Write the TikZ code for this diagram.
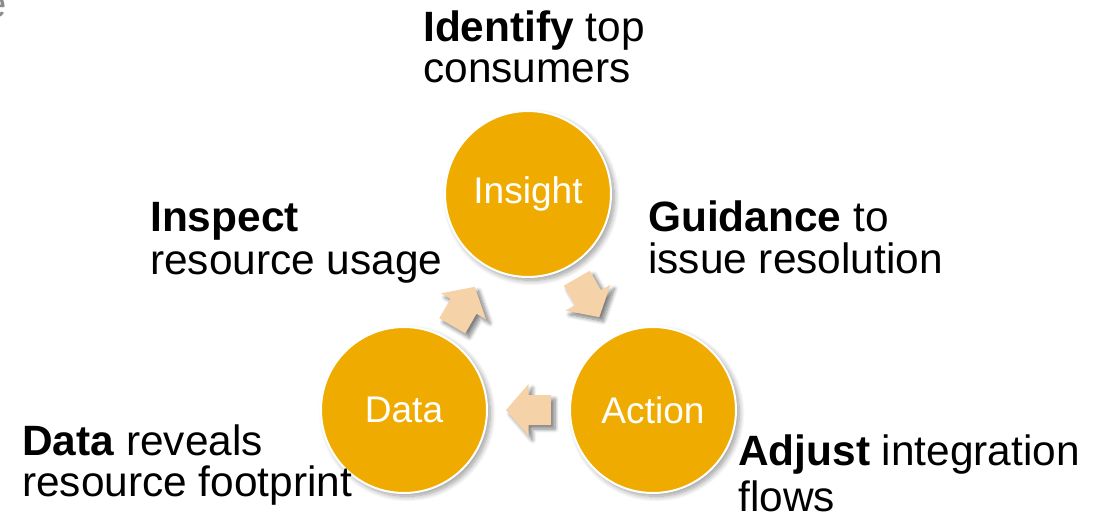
\documentclass[tikz,border=0pt]{standalone}
\usepackage{fontspec}
\setmainfont{Liberation Sans}
\usetikzlibrary{calc,shadows.blur}
\definecolor{gold}{RGB}{240,171,0}
\definecolor{peach}{RGB}{246,210,168}
\definecolor{cornergray}{RGB}{140,140,140}
\begin{document}
\begin{tikzpicture}[x=0.75pt,y=-0.75pt,
  stage/.style={circle, fill=gold, draw=white, line width=1.5pt,
    minimum size=124.5pt, inner sep=0pt, text=white,
    font=\fontsize{27.8}{30}\selectfont,
    blur shadow={shadow xshift=2.5pt, shadow yshift=-2.5pt, shadow opacity=40, shadow blur steps=10, shadow blur radius=4pt}},
  caption/.style={anchor=base west, inner sep=0pt},
  flow/.style={fill=peach,
    blur shadow={shadow xshift=3pt, shadow yshift=-3pt, shadow opacity=50, shadow blur steps=8, shadow blur radius=3pt}},
  blockarrow/.pic={\fill[flow] (-22.5,-15) -- (0,-15) -- (0,-26) -- (22.5,0) -- (0,26) -- (0,15) -- (-22.5,15) -- cycle;}
]
\useasboundingbox (0,0) rectangle (1096,527);
\begin{scope}
  \clip (0,0) rectangle (1096,527);
  \node[anchor=base east, inner sep=0pt, text=cornergray, font=\fontsize{30}{30}\selectfont] (corner) at (7,18) {e};
\end{scope}

% stages
\node[stage] (insight) at (528,194) {Insight};
\node[stage] (data) at (404,410) {Data};
\node[stage] (action) at (653,410) {Action};

% flow arrows
\pic[rotate=60] at ($(data)!0.48!(insight)$) {blockarrow};
\pic[rotate=-60] at ($(insight)!0.48!(action)$) {blockarrow};
\pic[rotate=180] at ($(action)!0.5!(data)$) {blockarrow};

% captions
\node[caption, font=\fontsize{31.8}{30.75}\selectfont] (capI) at (423,42)
  {\vtop{\hbox{\textbf{Identify} top}\hbox{consumers}}};
\node[caption, font=\fontsize{31.8}{32}\selectfont] (capD) at (150,232)
  {\vtop{\hbox{\textbf{Inspect}}\hbox{resource usage}}};
\node[caption, font=\fontsize{31.8}{31}\selectfont] (capG) at (648,232)
  {\vtop{\hbox{\textbf{Guidance} to}\hbox{issue resolution}}};
\node[caption, font=\fontsize{31.8}{31}\selectfont] (capR) at (22,455)
  {\vtop{\hbox{\textbf{Data} reveals}\hbox{resource footprint}}};
\node[caption, font=\fontsize{31.8}{35}\selectfont] (capA) at (738,465)
  {\vtop{\hbox{\textbf{Adjust} integration}\hbox{flows}}};
\end{tikzpicture}
\end{document}
